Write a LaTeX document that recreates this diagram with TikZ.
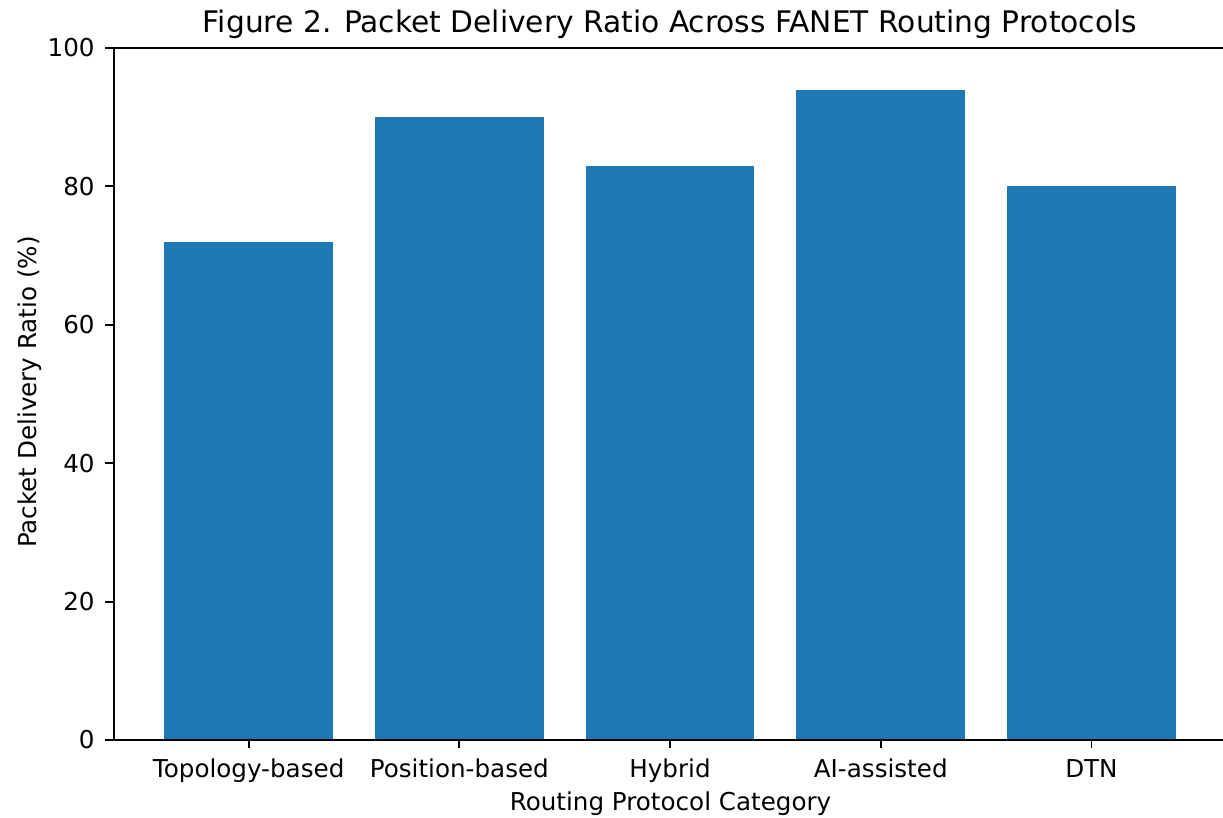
\documentclass[tikz,border=0pt]{standalone}
\usepackage{fontspec}
\setmainfont{DejaVu Sans}
\definecolor{barblue}{HTML}{1F77B4}
\definecolor{inkblack}{HTML}{000000}
\begin{document}
\begin{tikzpicture}[x=0.5pt,y=-0.5pt,
  spine/.style={draw=inkblack,line width=0.95pt,line cap=rect},
  tickmark/.style={draw=inkblack,line width=0.95pt},
  ticklabel/.style={font=\fontsize{12.3pt}{14.5pt}\selectfont,inner sep=0pt,text=inkblack},
  axislabel/.style={font=\fontsize{12.3pt}{14.5pt}\selectfont,inner sep=0pt,text=inkblack},
  charttitle/.style={font=\fontsize{14.85pt}{17.5pt}\selectfont,inner sep=0pt,text=inkblack},
  bar/.style={fill=barblue}]
\useasboundingbox (0,0) rectangle (1223,818);

% plot frame corners (pixel-like units, y grows downward)
\coordinate (tl) at (113.8,48);
\coordinate (bl) at (113.8,740);
\coordinate (tr) at (1226,48);
\coordinate (br) at (1226,740);

% bars: category centre spacing 210.7, bar width 168.6, 6.92 units per percent
\foreach \i/\v in {0/72,1/90,2/83,3/94,4/80}{
  \pgfmathsetmacro{\cx}{248.65+\i*210.7}
  \pgfmathsetmacro{\ytop}{740-\v*6.92}
  \fill[bar] (\cx-84.3,740) rectangle (\cx+84.3,\ytop);
}

% spines
\draw[spine] (tl) -- (bl);
\draw[spine] (bl) -- (br);
\draw[spine] (tl) -- (tr);

% y ticks and labels
\foreach \v in {0,20,40,60,80,100}{
  \pgfmathsetmacro{\yy}{740-\v*6.92}
  \coordinate (yt\v) at (105.4,\yy);
  \draw[tickmark] (yt\v) -- (113.8,\yy);
  \node[ticklabel,anchor=east] (ylab\v) at (95,\yy) {\v};
}

% x ticks and labels
\foreach \i/\name in {0/Topology-based,1/Position-based,2/Hybrid,3/AI-assisted,4/DTN}{
  \pgfmathsetmacro{\cx}{248.65+\i*210.7}
  \coordinate (xt\i) at (\cx,748.4);
  \draw[tickmark] (\cx,740) -- (xt\i);
  \node[ticklabel,anchor=base] (xlab\i) at (\cx,777) {\name};
}

% axis titles and chart title
\node[axislabel,anchor=base] (xtitle) at (670.5,811) {Routing Protocol Category};
\node[axislabel,anchor=base,rotate=90] (ytitle) at (36.5,392) {Packet Delivery Ratio (\%)};
\node[charttitle,anchor=base] (title) at (670,33) {Figure 2. Packet Delivery Ratio Across FANET Routing Protocols};
\end{tikzpicture}
\end{document}
